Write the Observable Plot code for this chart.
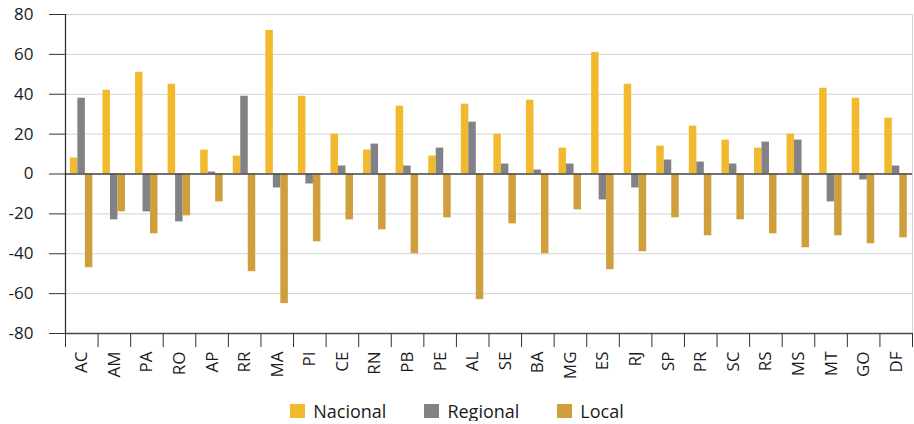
<!DOCTYPE html>
<html>
<head>
<meta charset="utf-8">
<script src="https://cdn.jsdelivr.net/npm/d3@7"></script>
<script src="https://cdn.jsdelivr.net/npm/@observablehq/plot@0.6"></script>
<style>
  html, body { margin: 0; padding: 0; background: #fff; }
  #wrap { width: 914px; font-family: 'Open Sans', sans-serif; color: #1a1a1a; }
  #wrap svg { display: block; }
  .legend { display: flex; justify-content: center; align-items: center; gap: 38px; margin-top: 15px; height: 20px; line-height: 20px; font-size: 18px; }
  .legend .item { display: flex; align-items: center; gap: 8px; }
  .legend .sw { width: 15px; height: 14px; display: inline-block; }
</style>
</head>
<body>
<div id="wrap"></div>
<script>
const states = ["AC","AM","PA","RO","AP","RR","MA","PI","CE","RN","PB","PE","AL","SE","BA","MG","ES","RJ","SP","PR","SC","RS","MS","MT","GO","DF"];
const nacional = [8,42,51,45,12,9,72,39,20,12,34,9,35,20,37,13,61,45,14,24,17,13,20,43,38,28];
const regional = [38,-23,-19,-24,1,39,-7,-5,4,15,4,13,26,5,2,5,-13,-7,7,6,5,16,17,-14,-3,4];
const local = [-47,-19,-30,-21,-14,-49,-65,-34,-23,-28,-40,-22,-63,-25,-40,-18,-48,-39,-22,-31,-23,-30,-37,-31,-35,-32];
const series = ["Nacional","Regional","Local"];
const colors = ["#F2B92F","#828286","#CE9F3C"];
const yTicks = [-80,-60,-40,-20,0,20,40,60,80];

const values = [nacional, regional, local];
const rows = states.flatMap((s, i) => series.map((k, j) => ({state: s, i, series: k, j, value: values[j][i]})));

// group layout within each state's unit band (fractions of one band)
const groupPad = 0.15, barW = 0.23;

const chart = Plot.plot({
  width: 914,
  height: 386,
  marginLeft: 65,
  marginRight: 2,
  marginTop: 14,
  marginBottom: 53,
  style: {fontFamily: "'Open Sans', sans-serif", fontSize: "17px", color: "#1a1a1a", background: "#fff"},
  x: {domain: [0, states.length], axis: null, label: null},
  y: {domain: [-80, 80], axis: null, label: null},
  color: {domain: series, range: colors},
  marks: [
    Plot.gridY({ticks: yTicks, stroke: "#d2d2d2", strokeOpacity: 1}),
    Plot.rectY(rows, {
      x1: d => d.i + groupPad + d.j * barW,
      x2: d => d.i + groupPad + (d.j + 1) * barW,
      y: "value",
      fill: "series"
    }),
    Plot.ruleY([0], {stroke: "#4a4a4a", strokeWidth: 1.3}),
    Plot.ruleY([-80], {stroke: "#4a4a4a", strokeWidth: 1.3}),
    Plot.ruleX([0], {stroke: "#333", strokeWidth: 1.3}),
    Plot.ruleX([states.length], {stroke: "#d2d2d2"}),
    Plot.axisY({ticks: yTicks, label: null, tickSize: 16, tickPadding: 16, stroke: "#333", fontSize: 17, tickFormat: d => String(d)}),
    Plot.axisX({ticks: d3.range(states.length + 1), label: null, tickSize: 14, tickFormat: () => "", stroke: "#333"}),
    Plot.axisX({ticks: states.map((s, i) => i + 0.5), label: null, tickSize: 0, tickPadding: 18, tickRotate: -90, fontSize: 17, tickFormat: d => states[Math.floor(d)]})
  ]
});

const wrap = document.getElementById("wrap");
wrap.appendChild(chart);

const legend = document.createElement("div");
legend.className = "legend";
series.forEach((s, j) => {
  const item = document.createElement("div");
  item.className = "item";
  const sw = document.createElement("span");
  sw.className = "sw";
  sw.style.background = colors[j];
  const t = document.createElement("span");
  t.textContent = s;
  item.appendChild(sw);
  item.appendChild(t);
  legend.appendChild(item);
});
wrap.appendChild(legend);
</script>
</body>
</html>
